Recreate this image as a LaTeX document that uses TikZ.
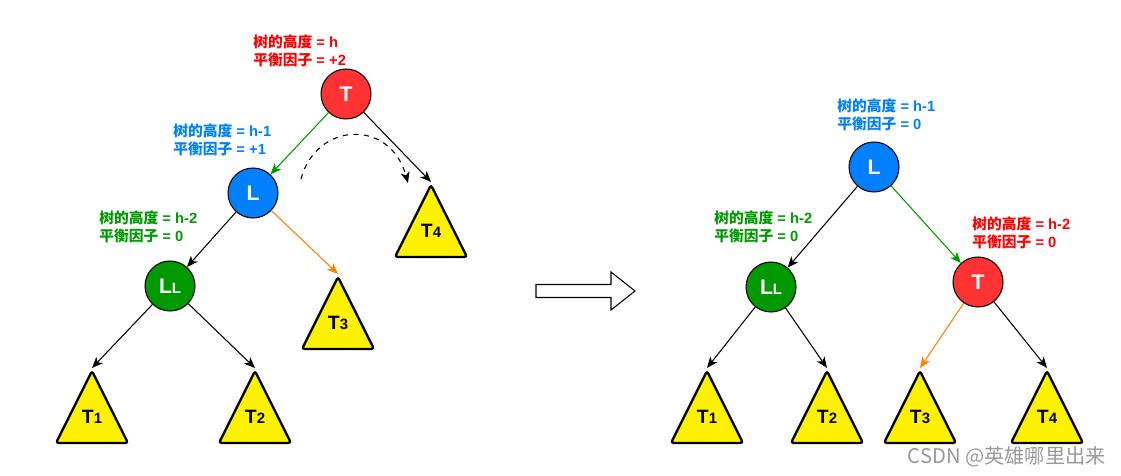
\documentclass[tikz,border=0pt]{standalone}
\usepackage{fontspec}
\setmainfont{Liberation Sans}
\newfontfamily\cjk{Noto Sans CJK SC}
\usetikzlibrary{arrows.meta,shapes.geometric}

\definecolor{nodered}{HTML}{FF3333}
\definecolor{nodeblue}{HTML}{007FFF}
\definecolor{nodegreen}{HTML}{009900}
\definecolor{txtred}{HTML}{FF0000}
\definecolor{edgeorange}{HTML}{FF8000}

\newcommand{\heightinfo}[2]{{\cjk 树的高度} = #1\\{\cjk 平衡因子} = #2}
\newcommand{\smalldigit}[1]{{\fontsize{8.5}{8.5}\selectfont #1}}

\begin{document}
\begin{tikzpicture}[x=0.02cm, y=-0.02cm,
    circ/.style={circle, draw=black, line width=0.6pt, minimum size=1cm, inner sep=0pt, text=white, font=\fontsize{12}{12}\selectfont\bfseries},
    tri/.style={isosceles triangle, isosceles triangle stretches, shape border rotate=90, draw=black, line width=1.3pt, fill=yellow, rounded corners=1.5pt, minimum width=1.44cm, minimum height=1.44cm, inner sep=0pt, anchor=apex},
    trilabel/.style={font=\fontsize{11}{11}\selectfont\bfseries},
    info/.style={align=left, anchor=west, inner sep=0pt, font=\fontsize{8.4}{10.2}\selectfont\bfseries},
    arrow/.style={-{Stealth[length=2.2mm, width=1.8mm, inset=0.6mm]}, line width=0.6pt}
]
\useasboundingbox (0,0) rectangle (1121,476);

% Left tree: before rotation
\node[circ, fill=nodered] (lT) at (346,94) {T};
\node[circ, fill=nodeblue] (lL) at (253,193) {L};
\node[circ, fill=nodegreen] (lLL) at (170,286) {L\smalldigit{L}};

\node[tri] (lt1) at (92,368) {};
\node[tri] (lt2) at (255,368) {};
\node[tri] (lt3) at (338,274) {};
\node[tri] (lt4) at (431,182) {};
\node[trilabel] (lt1txt) at (92,417) {T\smalldigit{1}};
\node[trilabel] (lt2txt) at (255,417) {T\smalldigit{2}};
\node[trilabel] (lt3txt) at (338,323) {T\smalldigit{3}};
\node[trilabel] (lt4txt) at (431,231) {T\smalldigit{4}};

\node[info, text=txtred] (lTinfo) at (253,51) {\heightinfo{h}{+2}};
\node[info, text=nodeblue] (lLinfo) at (173,140) {\heightinfo{h-1}{+1}};
\node[info, text=nodegreen] (lLLinfo) at (99,227) {\heightinfo{h-2}{0}};

\draw[arrow, nodegreen] (lT) -- (lL);
\draw[arrow] (lT) -- (lt4.apex);
\draw[arrow] (lL) -- (lLL);
\draw[arrow, edgeorange] (lL) -- (lt3.apex);
\draw[arrow] (lLL) -- (lt1.apex);
\draw[arrow] (lLL) -- (lt2.apex);

% Rotation hint
\coordinate (rotfrom) at (301,179);
\coordinate (rotto) at (408,183);
\draw[arrow, dashed] (rotfrom) .. controls (316,122) and (390,118) .. (rotto);

% Transition arrow
\draw[line width=0.6pt] (536,284.5) -- (611,284.5) -- (611,272) -- (635,291) -- (611,310) -- (611,297.5) -- (536,297.5) -- cycle;

% Right tree: after rotation
\node[circ, fill=nodeblue] (rL) at (874,167) {L};
\node[circ, fill=nodegreen] (rLL) at (771,287) {L\smalldigit{L}};
\node[circ, fill=nodered] (rT) at (978,282) {T};

\node[tri] (rt1) at (707,368) {};
\node[tri] (rt2) at (827,368) {};
\node[tri] (rt3) at (920,368) {};
\node[tri] (rt4) at (1047,368) {};
\node[trilabel] (rt1txt) at (707,417) {T\smalldigit{1}};
\node[trilabel] (rt2txt) at (827,417) {T\smalldigit{2}};
\node[trilabel] (rt3txt) at (920,417) {T\smalldigit{3}};
\node[trilabel] (rt4txt) at (1047,417) {T\smalldigit{4}};

\node[info, text=nodeblue] (rLinfo) at (837,115) {\heightinfo{h-1}{0}};
\node[info, text=nodegreen] (rLLinfo) at (714,227) {\heightinfo{h-2}{0}};
\node[info, text=txtred] (rTinfo) at (972,233) {\heightinfo{h-2}{0}};

\draw[arrow] (rL) -- (rLL);
\draw[arrow, nodegreen] (rL) -- (rT);
\draw[arrow] (rLL) -- (rt1.apex);
\draw[arrow] (rLL) -- (rt2.apex);
\draw[arrow, edgeorange] (rT) -- (rt3.apex);
\draw[arrow] (rT) -- (rt4.apex);

\node[anchor=east, inner sep=0pt, text=black!40, font=\cjk\fontsize{11.5}{12}\selectfont] (credit) at (1106,457) {CSDN @英雄哪里出来};

\end{tikzpicture}
\end{document}
